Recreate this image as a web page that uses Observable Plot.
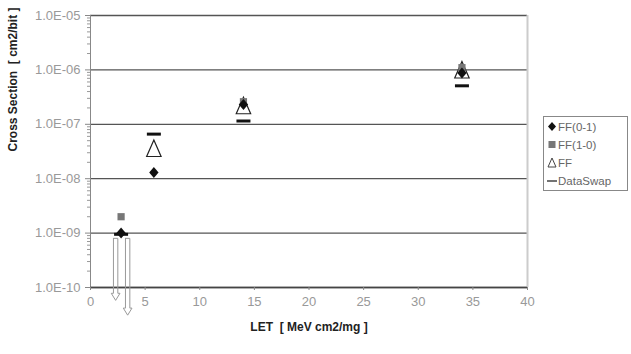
<!DOCTYPE html>
<html>
<head>
<meta charset="utf-8">
<script src="https://cdn.jsdelivr.net/npm/d3@7"></script>
<script src="https://cdn.jsdelivr.net/npm/@observablehq/plot@0.6"></script>
<style>
  body { margin: 0; background: #fff; font-family: "Liberation Sans", Arial, sans-serif; }
  #wrap { position: relative; width: 631px; height: 354px; overflow: hidden; }
  #legend { position: absolute; left: 543px; top: 116px; width: 83px; height: 73px;
            border: 1px solid #888; background: #fff; font-size: 11.5px; color: #666; }
  #legend .row { position: absolute; left: 3px; height: 14px; display: flex; align-items: center; }
  #legend svg { margin-right: 1px; }
</style>
</head>
<body>
<div id="wrap"></div>
<script>
// ---- data ----
const xTicks = [0, 5, 10, 15, 20, 25, 30, 35, 40];
const yTicks = [1e-10, 1e-9, 1e-8, 1e-7, 1e-6, 1e-5];
const yTickLabels = ["1.0E-10", "1.0E-09", "1.0E-08", "1.0E-07", "1.0E-06", "1.0E-05"];

const seriesNames = ["FF(0-1)", "FF(1-0)", "FF", "DataSwap"];

const ff01X = [2.8, 5.8, 14, 34];
const ff01Y = [1.0e-9, 1.3e-8, 2.3e-7, 8.8e-7];

const ff10X = [2.8, 14, 34];
const ff10Y = [2.0e-9, 2.6e-7, 1.1e-6];

const ffX = [5.8, 14, 34];
const ffY = [3.6e-8, 2.2e-7, 1.0e-6];

const swapX = [2.8, 5.8, 14, 34];
const swapY = [0.95e-9, 6.6e-8, 1.15e-7, 5.1e-7];

// upper-limit arrows at low LET
const arrowLeftX = [2.1, 3.2];
const arrowRightX = [2.5, 3.6];
const arrowTop = [8.0e-10, 8.0e-10];
const arrowTip = [5.8e-11, 3.1e-11];

// ---- build tables ----
const zip = (xs, ys) => xs.map((x, i) => ({x, y: ys[i]}));
const ff01 = zip(ff01X, ff01Y);
const ff10 = zip(ff10X, ff10Y);
const ff = zip(ffX, ffY);
const swap = zip(swapX, swapY);
const yLab = yTicks.map((y, i) => ({y, t: yTickLabels[i]}));

const headDec = 0.13, headW = 0.2;
const arrowPts = [];
arrowLeftX.forEach((xl, i) => {
  const xr = arrowRightX[i], xc = (xl + xr) / 2, top = arrowTop[i], tip = arrowTip[i];
  const hb = tip * Math.pow(10, headDec);
  [[xl, top], [xl, hb], [xl - headW, hb], [xc, tip], [xr + headW, hb], [xr, hb], [xr, top], [xl, top]]
    .forEach(([x, y]) => arrowPts.push({k: i, x, y}));
});

// custom symbols
const rOf = s => Math.sqrt(s / Math.PI);
const dashSym = {draw(c, s) { const r = rOf(s); c.moveTo(-r, 0); c.lineTo(r, 0); }};
const triSym = {draw(c, s) { const r = rOf(s); c.moveTo(0, -r); c.lineTo(0.85 * r, 0.95 * r); c.lineTo(-0.85 * r, 0.95 * r); c.closePath(); }};
const diaSym = {draw(c, s) { const r = rOf(s); c.moveTo(0, -r); c.lineTo(0.85 * r, 0); c.lineTo(0, r); c.lineTo(-0.85 * r, 0); c.closePath(); }};
const sqSym = {draw(c, s) { const r = rOf(s); c.rect(-r, -r, 2 * r, 2 * r); }};

const minorTicks = [];
for (let e = -10; e < -5; e++) for (let m = 2; m <= 9; m++) minorTicks.push(m * Math.pow(10, e));

const chart = Plot.plot({
  width: 631,
  height: 354,
  marginLeft: 90,
  marginRight: 104,
  marginTop: 15,
  marginBottom: 67,
  style: {fontFamily: "Liberation Sans, Arial, sans-serif", background: "#fff", overflow: "visible"},
  x: {domain: [0, 40]},
  y: {type: "log", domain: [1e-10, 1e-5]},
  marks: [
    Plot.ruleY(yTicks, {stroke: "#555", strokeWidth: 1.3}),
    Plot.ruleX([40], {stroke: "#ccc", strokeWidth: 2}),
    Plot.ruleX([0], {stroke: "#888"}),
    Plot.ruleY([1e-10], {stroke: "#444", strokeWidth: 1.3}),
    Plot.axisY({ticks: minorTicks, tickSize: 3, tickFormat: () => "", stroke: "#999", label: null}),
    Plot.axisY({ticks: yTicks, tickSize: 5, tickFormat: () => "", stroke: "#888", label: null}),
    Plot.axisX({ticks: xTicks, tickSize: 3, tickFormat: () => "", stroke: "#888", label: null}),
    Plot.text(yLab, {y: "y", text: "t", frameAnchor: "left", dx: -10, textAnchor: "end", fontSize: 13, fill: "#999"}),
    Plot.text(xTicks, {x: d => d, text: d => String(d), frameAnchor: "bottom", dy: 18, fontSize: 13, fill: "#999"}),
    Plot.line(arrowPts, {x: "x", y: "y", z: "k", stroke: "#999", strokeWidth: 1, clip: false}),
    Plot.dot(swap, {x: "x", y: "y", symbol: dashSym, r: 7, stroke: "#111", strokeWidth: 3, fill: "none"}),
    Plot.dot(ff, {x: "x", y: "y", symbol: triSym, r: 8.5, stroke: "#222", strokeWidth: 1.2, fill: "none"}),
    Plot.dot(ff10, {x: "x", y: "y", symbol: sqSym, r: 3.6, fill: "#777", stroke: "none"}),
    Plot.dot(ff01, {x: "x", y: "y", symbol: diaSym, r: 5.5, fill: "#111", stroke: "none"}),
    Plot.text(["Cross Section  [ cm2/bit ]"], {frameAnchor: "left", dx: -77, rotate: -90, fontWeight: "bold", fontSize: 12, fill: "#222"}),
    Plot.text(["LET  [ MeV cm2/mg ]"], {frameAnchor: "bottom", dy: 43, fontWeight: "bold", fontSize: 12, fill: "#222"})
  ]
});

const wrap = document.getElementById("wrap");
wrap.appendChild(chart);

// legend
const legend = document.createElement("div");
legend.id = "legend";
const markers = [
  '<polygon points="5,1 9,5.5 5,10 1,5.5" fill="#111"/>',
  '<rect x="1.5" y="2" width="7" height="7" fill="#777"/>',
  '<polygon points="5,1 9,10 1,10" fill="none" stroke="#444" stroke-width="1"/>',
  '<line x1="0" y1="6" x2="10" y2="6" stroke="#444" stroke-width="1.5"/>'
];
seriesNames.forEach((name, i) => {
  const row = document.createElement("div");
  row.className = "row";
  row.style.top = (3 + i * 18) + "px";
  row.innerHTML = `<svg width="10" height="12">${markers[i]}</svg><span>${name}</span>`;
  legend.appendChild(row);
});
wrap.appendChild(legend);
</script>
</body>
</html>
